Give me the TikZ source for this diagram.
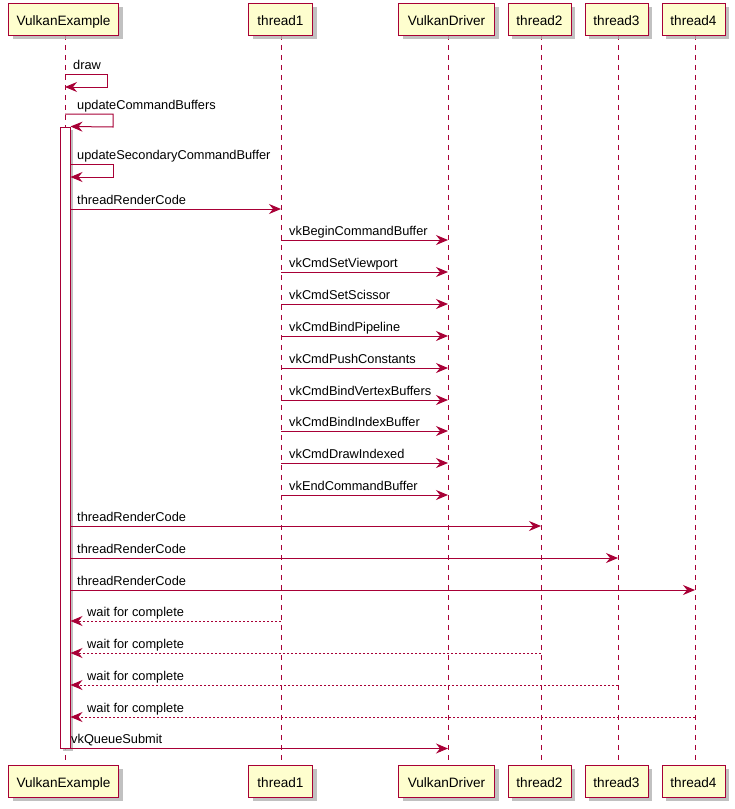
\documentclass[tikz,border=0pt]{standalone}
\usepackage{fontspec}
\setmainfont{Liberation Sans}
\usetikzlibrary{arrows.meta,shadows}
\definecolor{pred}{HTML}{A80036}
\definecolor{pyel}{HTML}{FEFECE}
\tikzset{
  part/.style={draw=pred, fill=pyel, line width=1pt, minimum height=32pt, inner sep=0pt,
    text height=13pt, text depth=0pt,
    font=\fontsize{13.6}{16}\selectfont,
    drop shadow={shadow xshift=4pt, shadow yshift=-4pt, fill=black!30, opacity=0.8}},
  actbox/.style={draw=pred, fill=white, line width=1pt, minimum width=10pt, minimum height=621pt, inner sep=0pt,
    drop shadow={shadow xshift=3pt, shadow yshift=-3pt, fill=black!30, opacity=0.8}},
  life/.style={draw=pred, line width=1pt, dash pattern=on 5pt off 5pt},
  msg/.style={draw=pred, line width=1pt, -{Stealth[length=12pt,width=10pt,inset=4pt]}},
  ret/.style={msg, dash pattern=on 2pt off 2pt},
  lbl/.style={font=\fontsize{12.8}{15}\selectfont, anchor=base west, inner sep=0pt}
}
\begin{document}
\begin{tikzpicture}[x=1pt,y=-1pt]
\useasboundingbox (0,0) rectangle (735,809);
% lifeline coordinates
\coordinate (veT) at (65,35);  \coordinate (veB) at (65,765);
\coordinate (t1T) at (281,35); \coordinate (t1B) at (281,765);
\coordinate (vdT) at (448,35); \coordinate (vdB) at (448,765);
\coordinate (t2T) at (541,35); \coordinate (t2B) at (541,765);
\coordinate (t3T) at (618,35); \coordinate (t3B) at (618,765);
\coordinate (t4T) at (695,35); \coordinate (t4B) at (695,765);
\draw[life] (veT) -- (veB);
\draw[life] (t1T) -- (t1B);
\draw[life] (vdT) -- (vdB);
\draw[life] (t2T) -- (t2B);
\draw[life] (t3T) -- (t3B);
\draw[life] (t4T) -- (t4B);
% participants
\node[part, minimum width=110pt] (ve) at (63.5,19) {VulkanExample};
\node[part, minimum width=64pt]  (t1) at (280.5,19) {thread1};
\node[part, minimum width=96pt]  (vd) at (446.5,19) {VulkanDriver};
\node[part, minimum width=63pt]  (t2) at (539.5,19) {thread2};
\node[part, minimum width=63pt]  (t3) at (616.5,19) {thread3};
\node[part, minimum width=63pt]  (t4) at (693.5,19) {thread4};
\node[part, minimum width=110pt] (veb) at (63.5,781) {VulkanExample};
\node[part, minimum width=64pt]  (t1b) at (280.5,781) {thread1};
\node[part, minimum width=96pt]  (vdb) at (446.5,781) {VulkanDriver};
\node[part, minimum width=63pt]  (t2b) at (539.5,781) {thread2};
\node[part, minimum width=63pt]  (t3b) at (616.5,781) {thread3};
\node[part, minimum width=63pt]  (t4b) at (693.5,781) {thread4};
% activation
\node[actbox] (act) at (65,437.5) {};
% rows
\coordinate (rDraw) at (0,74);  \coordinate (rDraw2) at (0,87);
\coordinate (rUcb) at (0,114);
\coordinate (rUsc) at (0,164);  \coordinate (rUsc2) at (0,177);
\coordinate (rTrc) at (0,209);
\coordinate (r1) at (0,240); \coordinate (r2) at (0,272); \coordinate (r3) at (0,304);
\coordinate (r4) at (0,336); \coordinate (r5) at (0,368); \coordinate (r6) at (0,400);
\coordinate (r7) at (0,431); \coordinate (r8) at (0,463); \coordinate (r9) at (0,495);
\coordinate (rT2) at (0,526); \coordinate (rT3) at (0,558); \coordinate (rT4) at (0,590);
\coordinate (w1) at (0,621); \coordinate (w2) at (0,653); \coordinate (w3) at (0,685); \coordinate (w4) at (0,717);
% self messages
\draw[msg] (veT |- rDraw) -- ++(42,0) -- ++(0,13) -- (veT |- rDraw2);
\node[lbl] (lDraw) at (73,69) {draw};
\draw[msg] (veT |- rUcb) -- ++(48,0) -- ++(0,13) -- (act.north east);
\node[lbl] (lUcb) at (77,109) {updateCommandBuffers};
\draw[msg] (act.east |- rUsc) -- ++(43,0) -- ++(0,13) -- (act.east |- rUsc2);
\node[lbl] (lUsc) at (77,159) {updateSecondaryCommandBuffer};
% messages
\draw[msg] (act.east |- rTrc) -- (t1T |- rTrc);
\node[lbl] (lTrc) at (77,204) {threadRenderCode};
\draw[msg] (t1T |- r1) -- (vdT |- r1); \node[lbl] (l1) at (289,235) {vkBeginCommandBuffer};
\draw[msg] (t1T |- r2) -- (vdT |- r2); \node[lbl] (l2) at (289,267) {vkCmdSetViewport};
\draw[msg] (t1T |- r3) -- (vdT |- r3); \node[lbl] (l3) at (289,299) {vkCmdSetScissor};
\draw[msg] (t1T |- r4) -- (vdT |- r4); \node[lbl] (l4) at (289,331) {vkCmdBindPipeline};
\draw[msg] (t1T |- r5) -- (vdT |- r5); \node[lbl] (l5) at (289,363) {vkCmdPushConstants};
\draw[msg] (t1T |- r6) -- (vdT |- r6); \node[lbl] (l6) at (289,395) {vkCmdBindVertexBuffers};
\draw[msg] (t1T |- r7) -- (vdT |- r7); \node[lbl] (l7) at (289,426) {vkCmdBindIndexBuffer};
\draw[msg] (t1T |- r8) -- (vdT |- r8); \node[lbl] (l8) at (289,458) {vkCmdDrawIndexed};
\draw[msg] (t1T |- r9) -- (vdT |- r9); \node[lbl] (l9) at (289,490) {vkEndCommandBuffer};
\draw[msg] (act.east |- rT2) -- (t2T |- rT2); \node[lbl] (lT2) at (77,521) {threadRenderCode};
\draw[msg] (act.east |- rT3) -- (t3T |- rT3); \node[lbl] (lT3) at (77,553) {threadRenderCode};
\draw[msg] (act.east |- rT4) -- (t4T |- rT4); \node[lbl] (lT4) at (77,585) {threadRenderCode};
\draw[ret] (t1T |- w1) -- (act.east |- w1); \node[lbl] (lw1) at (87,616) {wait for complete};
\draw[ret] (t2T |- w2) -- (act.east |- w2); \node[lbl] (lw2) at (87,648) {wait for complete};
\draw[ret] (t3T |- w3) -- (act.east |- w3); \node[lbl] (lw3) at (87,680) {wait for complete};
\draw[ret] (t4T |- w4) -- (act.east |- w4); \node[lbl] (lw4) at (87,712) {wait for complete};
\draw[msg] (act.south east) -- (vdT |- act.south east);
\node[lbl] (lQ) at (71,743) {vkQueueSubmit};
\end{tikzpicture}
\end{document}
